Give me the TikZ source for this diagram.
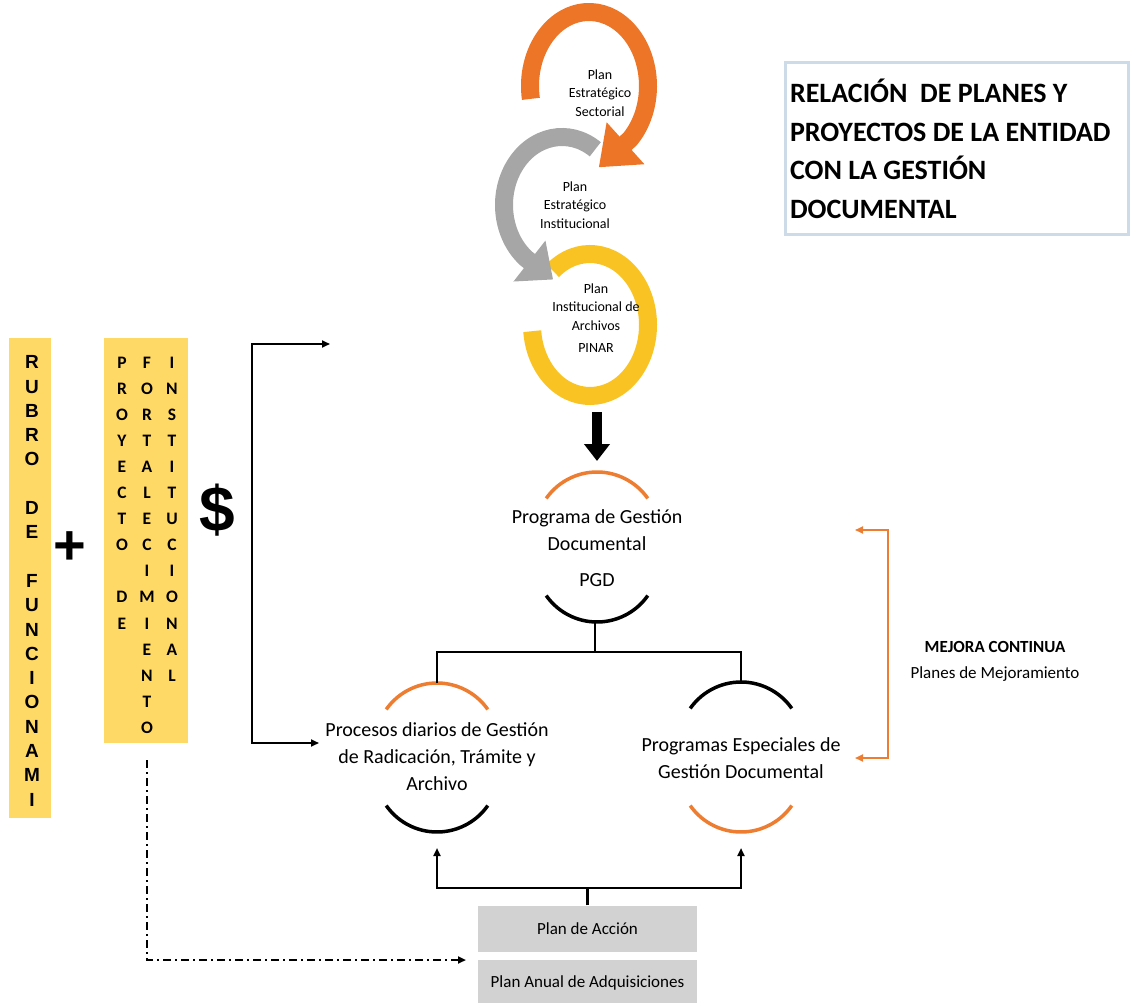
\documentclass[tikz,border=0pt]{standalone}
\usepackage{fontspec}
\setmainfont{Carlito}
\newfontfamily\arialfont{Liberation Sans}
\usetikzlibrary{positioning, shapes, arrows.meta}
\definecolor{naranja}{RGB}{237,125,49}
\definecolor{anaranjado}{RGB}{236,117,40}
\definecolor{grisanillo}{RGB}{166,166,166}
\definecolor{amarilloanillo}{RGB}{249,196,35}
\definecolor{amarillo}{RGB}{255,217,102}
\definecolor{griscaja}{RGB}{210,210,210}
\definecolor{marcotit}{RGB}{205,218,232}
\tikzset{
  anillo/.style={line width=18pt},
  etiq/.style={align=center, inner sep=0pt, font=\fontsize{14}{18.5}\selectfont},
  texto/.style={align=center, inner sep=0pt, font=\fontsize{20}{27}\selectfont},
  arco/.style={line width=3.5pt},
  linea/.style={line width=2.4pt},
  flecha/.style={line width=2pt, -{Triangle[length=8pt,width=7pt]}},
  doble/.style={line width=1.8pt, {Triangle[length=8pt,width=7pt]}-{Triangle[length=8pt,width=7pt]}},
  punteada/.style={line width=2pt, dash pattern=on 8pt off 4pt on 2pt off 4pt, -{Triangle[length=8pt,width=7pt]}},
  caja/.style={fill=griscaja, minimum width=219pt, minimum height=46pt, inner sep=0pt, font=\fontsize{17}{20}\selectfont},
  franja/.style={fill=amarillo, inner sep=0pt},
  letras/.style={align=center, inner sep=0pt, font=\arialfont\bfseries\fontsize{19}{24.3}\selectfont},
  columna/.style={align=center, inner sep=0pt, font=\bfseries\fontsize{17.5}{26.1}\selectfont},
  titulo/.style={draw=marcotit, line width=3pt, align=flush left, text width=333pt, inner xsep=5pt,
    minimum height=172pt, font=\bfseries\fontsize{28}{38.5}\selectfont}
}
\begin{document}
\begin{tikzpicture}[x=1pt,y=1pt]
\useasboundingbox (0,0) rectangle (1130,-1003);

% titulo
\node[titulo] (tit) at (956.5,-149) {RELACIÓN~~DE PLANES Y\\PROYECTOS DE LA ENTIDAD\\CON LA GESTIÓN\\DOCUMENTAL};

% anillos de planes
\draw[anillo, amarilloanillo] (590,-325) ++(130:58 and 71)
  arc[start angle=130, end angle=-175, x radius=58, y radius=71];
\draw[anillo, grisanillo, -{Triangle[width=50pt,length=30pt]}] (562,-205) ++(55:58 and 68)
  arc[start angle=55, end angle=232, x radius=58, y radius=68] -- ++(322:34);
\draw[anillo, anaranjado, -{Triangle[width=54pt,length=36pt]}] (589,-86) ++(190:59 and 74)
  arc[start angle=190, end angle=-46, x radius=59, y radius=74] -- ++(-138:42);
\node[etiq] (pes) at (600,-93) {Plan\\Estratégico\\Sectorial};
\node[etiq] (pei) at (575,-205) {Plan\\Estratégico\\Institucional};
\node[etiq] (pinar) at (596,-318) {Plan\\Institucional de\\Archivos\\[4pt]PINAR};

\coordinate (fa) at (597,-412);
\coordinate (fb) at (597,-461);
\draw[line width=10pt, -{Triangle[width=25pt,length=17pt]}] (fa) -- (fb);

% PGD
\node[texto] (pgd) at (597,-530) {Programa de Gestión\\Documental};
\node[texto] (sigla) at (597,-580) {PGD};
\draw[arco, naranja] (597,-534) ++(145:62) arc[start angle=145, end angle=35, radius=62];
\draw[arco] (597,-560) ++(215:62) arc[start angle=215, end angle=325, radius=62];

% procesos y programas
\node[texto] (proc) at (437,-757) {Procesos diarios de Gestión\\de Radicación, Trámite y\\Archivo};
\draw[arco, naranja] (437,-745) ++(145:62) arc[start angle=145, end angle=35, radius=62];
\draw[arco] (437,-770) ++(215:62) arc[start angle=215, end angle=325, radius=62];
\node[texto] (esp) at (741,-758) {Programas Especiales de\\Gestión Documental};
\draw[arco] (741,-744) ++(145:62) arc[start angle=145, end angle=35, radius=62];
\draw[arco, naranja] (741,-770) ++(215:62) arc[start angle=215, end angle=325, radius=62];

\coordinate (t0) at (595,-622);
\coordinate (t1) at (595,-652);
\coordinate (tp) at (437,-683);
\coordinate (te) at (741,-683);
\draw[linea] (t0) -- (t1);
\draw[linea] (tp) |- (t1) -| (te);

% planes de accion
\node[caja] (accion) at (587.5,-928.5) {Plan de Acción};
\node[caja, below=8pt of accion] (adq) {Plan Anual de Adquisiciones};
\coordinate (bif) at (587.5,-888);
\coordinate (pp) at (437,-848);
\coordinate (pe) at (741,-848);
\draw[linea] (accion.north) -- (bif);
\draw[flecha] (bif) -| (pp);
\draw[flecha] (bif) -| (pe);

% mejora continua
\draw[doble, naranja] (855,-530) -- (888,-530) -- (888,-758) -- (855,-758);
\node[align=center, inner sep=0pt, font=\fontsize{17}{26}\selectfont] (mejora) at (995,-661)
  {\textbf{MEJORA CONTINUA}\\Planes de Mejoramiento};

% recursos
\node[franja, minimum width=42pt, minimum height=480pt] (rubro) at (30,-578) {};
\node[letras, anchor=north] (lrubro) at (32,-355.5)
  {R\\U\\B\\R\\O\\\mbox{}\\D\\E\\\mbox{}\\F\\U\\N\\C\\I\\O\\N\\A\\M\\I};
\node[font=\arialfont\bfseries\fontsize{56}{56}\selectfont, inner sep=0pt] (mas) at (70,-548) {+};
\node[franja, minimum width=84pt, minimum height=405pt] (fort) at (146,-540.5) {};
\node[columna, anchor=north] (c1) at (122,-356.5) {P\\R\\O\\Y\\E\\C\\T\\O\\\mbox{}\\D\\E};
\node[columna, anchor=north] (c2) at (147,-356.5) {F\\O\\R\\T\\A\\L\\E\\C\\I\\M\\I\\E\\N\\T\\O};
\node[columna, anchor=north] (c3) at (172,-356.5) {I\\N\\S\\T\\I\\T\\U\\C\\I\\O\\N\\A\\L};
\node[font=\arialfont\bfseries\fontsize{64}{64}\selectfont, inner sep=0pt] (peso) at (217,-510) {\$};

\coordinate (s1f) at (330,-344);
\coordinate (s1) at (252,-344);
\coordinate (s2) at (252,-743);
\coordinate (s2f) at (319,-743);
\draw[doble] (s1f) -- (s1) -- (s2) -- (s2f);

\coordinate (d0) at (147,-760);
\coordinate (d1) at (147,-960);
\coordinate (d2) at (466,-960);
\draw[punteada] (d0) -- (d1) -- (d2);
\end{tikzpicture}
\end{document}
